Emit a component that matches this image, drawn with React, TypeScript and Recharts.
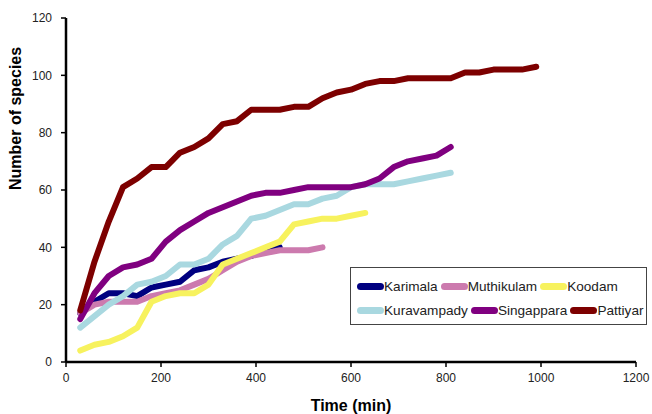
import { LineChart, Line, XAxis, YAxis } from 'recharts'

const times = [30, 60, 90, 120, 150, 180, 210, 240, 270, 300, 330, 360, 390, 420, 450, 480, 510, 540, 570, 600, 630, 660, 690, 720, 750, 780, 810, 840, 870, 900, 930, 960, 990]

const karimala = [17, 21, 24, 24, 23, 26, 27, 28, 32, 33, 35, 36, 37, 39, 40]
const muthikulam = [17, 20, 21, 21, 21, 23, 24, 25, 27, 29, 32, 35, 37, 38, 39, 39, 39, 40]
const koodam = [4, 6, 7, 9, 12, 21, 23, 24, 24, 27, 34, 36, 38, 40, 42, 48, 49, 50, 50, 51, 52]
const kuravampady = [12, 16, 20, 23, 27, 28, 30, 34, 34, 36, 41, 44, 50, 51, 53, 55, 55, 57, 58, 61, 62, 62, 62, 63, 64, 65, 66]
const singappara = [15, 24, 30, 33, 34, 36, 42, 46, 49, 52, 54, 56, 58, 59, 59, 60, 61, 61, 61, 61, 62, 64, 68, 70, 71, 72, 75]
const pattiyar = [18, 35, 49, 61, 64, 68, 68, 73, 75, 78, 83, 84, 88, 88, 88, 89, 89, 92, 94, 95, 97, 98, 98, 99, 99, 99, 99, 101, 101, 102, 102, 102, 103]

const xTicks = [0, 200, 400, 600, 800, 1000, 1200]
const yTicks = [0, 20, 40, 60, 80, 100, 120]

const series = [
  { name: 'Karimala', values: karimala, color: '#000080' },
  { name: 'Muthikulam', values: muthikulam, color: '#cc7aae' },
  { name: 'Koodam', values: koodam, color: '#f7f25e' },
  { name: 'Kuravampady', values: kuravampady, color: '#a9d8e0' },
  { name: 'Singappara', values: singappara, color: '#800080' },
  { name: 'Pattiyar', values: pattiyar, color: '#7d0000' },
]

const toPoints = (values: number[]) => values.map((v, i) => ({ t: times[i], n: v }))

const font = '"Liberation Sans", Arial, Helvetica, sans-serif'

// legend drawn as html on top of the chart, two rows of three
function LegendBox() {
  const rows = [series.slice(0, 3), series.slice(3, 6)]
  return (
    <div
      style={{
        position: 'absolute',
        left: 350,
        top: 267,
        border: '1.5px solid #444',
        width: 297,
        height: 58,
        boxSizing: 'border-box',
        padding: '6px 0 0 6px',
        fontFamily: font,
        fontSize: 13.6,
        color: '#222',
        background: '#fff',
      }}
    >
      {rows.map((row, r) => (
        <div key={r} style={{ display: 'flex', alignItems: 'center', height: 24, whiteSpace: 'nowrap' }}>
          {row.map((s) => (
            <div key={s.name} style={{ display: 'flex', alignItems: 'center', marginRight: 3 }}>
              <span style={{ display: 'inline-block', width: 27, height: 7, borderRadius: 4, background: s.color }} />
              <span>{s.name}</span>
            </div>
          ))}
        </div>
      ))}
    </div>
  )
}

export default function App() {
  return (
    <div style={{ position: 'absolute', left: 0, top: 0, width: 652, height: 414, background: '#fff' }}>
      <LineChart width={652} height={414} margin={{ top: 18, right: 16, bottom: 22, left: 0 }}>
        <XAxis
          type="number"
          dataKey="t"
          domain={[0, 1200]}
          ticks={xTicks}
          height={30}
          allowDataOverflow
          axisLine={{ stroke: '#000', strokeWidth: 2.5 }}
          tickLine={{ stroke: '#000', strokeWidth: 1.5 }}
          tickSize={5}
          tickMargin={6}
          tick={{ fill: '#222', fontSize: 12, fontFamily: font }}
          label={{ value: 'Time (min)', position: 'insideBottom', offset: -19, fill: '#000', fontSize: 16, fontWeight: 'bold', fontFamily: font }}
        />
        <YAxis
          type="number"
          dataKey="n"
          domain={[0, 120]}
          ticks={yTicks}
          width={66}
          axisLine={{ stroke: '#000', strokeWidth: 2.5 }}
          tickLine={{ stroke: '#000', strokeWidth: 1.5 }}
          tickSize={5}
          tickMargin={9}
          tick={{ fill: '#222', fontSize: 12, fontFamily: font }}
          label={{ value: 'Number of species', angle: -90, position: 'insideLeft', offset: 15, fill: '#000', fontSize: 16, fontWeight: 'bold', fontFamily: font }}
        />
        {series.map((s) => (
          <Line
            key={s.name}
            name={s.name}
            data={toPoints(s.values)}
            dataKey="n"
            type="linear"
            stroke={s.color}
            strokeWidth={6}
            strokeLinecap="round"
            strokeLinejoin="round"
            dot={false}
            activeDot={false}
            isAnimationActive={false}
          />
        ))}
      </LineChart>
      <LegendBox />
    </div>
  )
}
